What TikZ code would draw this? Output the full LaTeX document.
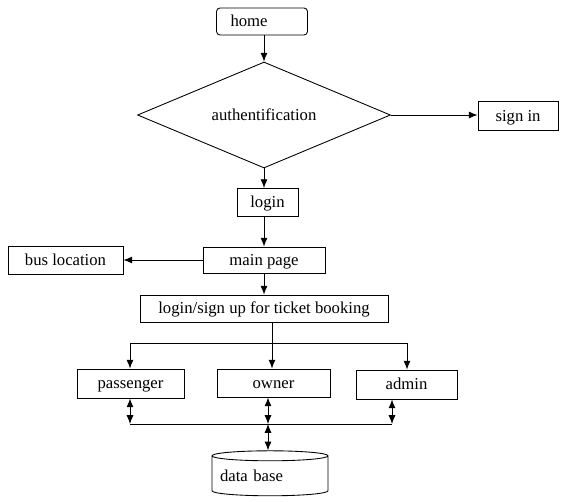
\documentclass[tikz,border=0pt]{standalone}
\usepackage{fontspec}
\setmainfont{Liberation Serif}
\usetikzlibrary{shapes.geometric,arrows.meta}
\tikzset{
  box/.style={draw, inner sep=0pt, text height=1.5ex, text depth=0.25ex, font=\fontsize{9.5}{11}\selectfont},
  arr/.style={-{Latex[length=5pt,width=4pt]}},
  darr/.style={{Latex[length=5pt,width=4pt]}-{Latex[length=5pt,width=4pt]}}
}
\begin{document}
\begin{tikzpicture}[x=0.02cm, y=-0.02cm, line width=0.5pt]
    \useasboundingbox (0,0) rectangle (563,501);
    % top part
    \node[box, rounded corners=2pt, minimum height=0.54cm, text width=1.26cm, inner xsep=0.28cm, align=left] (home) at (262,21.5) {home};
    \node[box, diamond, aspect=2.4, minimum width=5.06cm, minimum height=2.12cm] (auth) at (264,115) {authentification};
    \node[box, minimum width=1.6cm, minimum height=0.58cm] (signin) at (518,116) {sign in};
    \node[box, minimum width=1.22cm, minimum height=0.56cm] (login) at (267.5,202.5) {login};
    \node[box, minimum width=2.44cm, minimum height=0.52cm] (mainpage) at (264,260) {main page};
    \node[box, minimum width=2.3cm, minimum height=0.56cm] (busloc) at (65.5,260) {bus location};
    \node[box, minimum width=4.96cm, minimum height=0.54cm] (booking) at (264,308.5) {login/sign up for ticket booking};
    % users
    \node[box, minimum width=2.14cm, minimum height=0.58cm] (passenger) at (130.5,383.5) {passenger};
    \node[box, minimum width=2.26cm, minimum height=0.56cm] (owner) at (273.5,383) {owner};
    \node[box, minimum width=2.02cm, minimum height=0.58cm] (admin) at (406.5,384.5) {admin};
    % data base
    \node[box, cylinder, shape border rotate=90, aspect=0.1, minimum width=2.32cm, minimum height=0.9cm, text width=2.0cm, align=left] (db) at (270,476) {data base};
    \coordinate (split) at (272,343);
    \coordinate (bus) at (268,424);
    % connectors
    \draw[arr] (home.south -| 264,0) -- (auth.north);
    \draw[arr] (auth.east) -- (auth.east -| signin.west);
    \draw[arr] (auth.south) -- (auth.south |- login.north);
    \draw[arr] (mainpage.north |- login.south) -- (mainpage.north);
    \draw[arr] (mainpage.west) -- (busloc.east);
    \draw[arr] (mainpage.south) -- (booking.north);
    \draw[arr] (split |- booking.south) -- (split |- owner.north);
    \draw[arr] (split) -| (130,0 |- passenger.north);
    \draw[arr] (split) -| (407,0 |- admin.north);
    \draw (130,0 |- bus) -- (392,0 |- bus);
    \draw[darr] (130,0 |- passenger.south) -- (130,0 |- bus);
    \draw[darr] (bus |- owner.south) -- (bus);
    \draw[darr] (392,0 |- admin.south) -- (392,0 |- bus);
    \draw[darr] (bus) -- (bus |- db.north);
\end{tikzpicture}
\end{document}
